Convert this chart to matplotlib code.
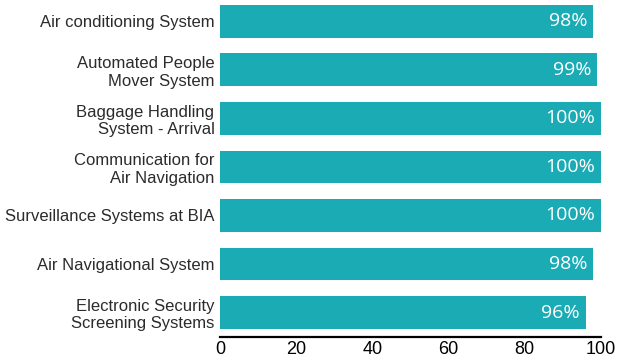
import matplotlib.pyplot as plt

systems = [
    'Air conditioning System',
    'Automated People\nMover System',
    'Baggage Handling\nSystem - Arrival',
    'Communication for\nAir Navigation',
    'Surveillance Systems at BIA',
    'Air Navigational System',
    'Electronic Security\nScreening Systems',
]
availability = [98, 99, 100, 100, 100, 98, 96]
x_ticks = [0, 20, 40, 60, 80, 100]

bar_color = '#1aabb5'

fig = plt.figure(figsize=(6.3, 3.58), dpi=100)
ax = fig.add_axes([220 / 630, 1 - 337 / 358, 381 / 630, 337 / 358])

y_pos = range(len(systems))
ax.barh(y_pos, availability, height=0.68, color=bar_color, zorder=2)

# white value labels sitting inside the right end of each bar
for y, v in zip(y_pos, availability):
    ax.text(v - 1.6, y, f'{v}%', ha='right', va='center', color='white',
            fontsize=14, family='Open Sans', zorder=3)

ax.set_xlim(0, 100)
ax.set_ylim(6.505, -0.443)
ax.set_xticks(x_ticks)
ax.set_xticklabels([str(t) for t in x_ticks], fontsize=13, family='Liberation Sans')
ax.set_yticks(list(y_pos))
ax.set_yticklabels(systems, fontsize=12, family='Liberation Sans', color='#2b2b2b',
                   linespacing=1.2, multialignment='right')
ax.tick_params(axis='both', length=0)
ax.tick_params(axis='x', pad=3)
ax.tick_params(axis='y', pad=4)

for side in ['top', 'right', 'left']:
    ax.spines[side].set_visible(False)
ax.spines['bottom'].set_linewidth(1.6)
ax.spines['bottom'].set_color('black')

fig.savefig('out.png', dpi=100)
